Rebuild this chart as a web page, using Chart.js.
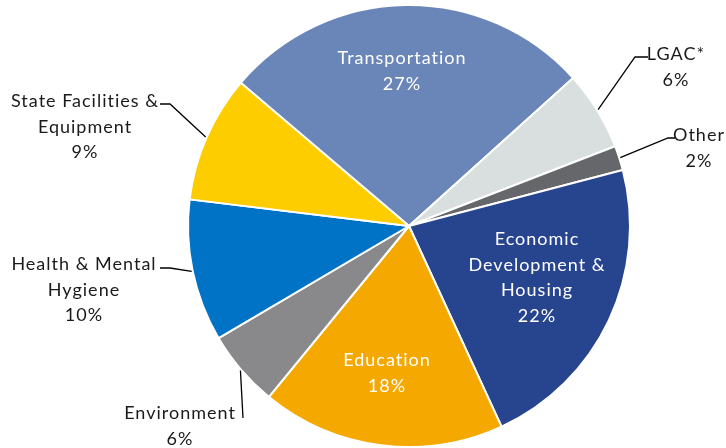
<!DOCTYPE html>
<html>
<head>
<meta charset="utf-8">
<script src="https://cdn.jsdelivr.net/npm/chart.js@4.4.0/dist/chart.umd.min.js"></script>
<style>
  html, body { margin: 0; padding: 0; background: #fff; }
  #wrap { width: 726px; height: 448px; }
</style>
</head>
<body>
<div id="wrap"><canvas id="chart" width="726" height="448"></canvas></div>
<script>
const categories = [
  ["Transportation"],
  ["LGAC*"],
  ["Other"],
  ["Economic", "Development &", "Housing"],
  ["Education"],
  ["Environment"],
  ["Health & Mental", "Hygiene"],
  ["State Facilities &", "Equipment"],
];
const shares = [27.1, 5.8, 1.8, 22.2, 17.8, 5.6, 10.4, 9.3];
const sliceColors = ["#6a86b8", "#d9dedf", "#66676a", "#27448f", "#f4a800", "#89898b", "#0073c7", "#fecd00"];

// label placement: inside labels by centre, outside labels with a leader line
const labelStyle = [
  { inside: true, x: 402, y: 58 },
  { elbow: [635, 57], end: [648, 57], x: 676, y: 54 },
  { elbow: [668, 138], end: [675, 138], x: 699, y: 135 },
  { inside: true, x: 537, y: 239 },
  { inside: true, x: 387, y: 360 },
  { elbow: [243, 418], end: [243, 418], x: 180, y: 413 },
  { elbow: [170, 268], end: [160, 268], x: 84, y: 264 },
  { elbow: [170, 104], end: [160, 104], x: 85, y: 101 },
];

const labelPlugin = {
  id: "sliceLabels",
  afterDatasetsDraw(chart) {
    const ctx = chart.ctx;
    const meta = chart.getDatasetMeta(0);
    const total = shares.reduce((a, b) => a + b, 0);
    ctx.save();
    ctx.font = "18px Lato";
    ctx.letterSpacing = "1px";
    ctx.textAlign = "center";
    ctx.textBaseline = "middle";
    meta.data.forEach((arc, i) => {
      const p = arc.getProps(["x", "y", "startAngle", "endAngle", "outerRadius"], true);
      const s = labelStyle[i];
      const lines = categories[i].concat([Math.round((shares[i] / total) * 100) + "%"]);
      if (!s.inside) {
        const mid = (p.startAngle + p.endAngle) / 2;
        const r = p.outerRadius + 1;
        ctx.strokeStyle = "#000";
        ctx.lineWidth = 1.3;
        ctx.beginPath();
        ctx.moveTo(p.x + Math.cos(mid) * r, p.y + Math.sin(mid) * r);
        ctx.lineTo(s.elbow[0], s.elbow[1]);
        ctx.lineTo(s.end[0], s.end[1]);
        ctx.stroke();
      }
      ctx.fillStyle = s.inside ? "#fff" : "#1a1a1a";
      lines.forEach((t, j) => ctx.fillText(t, s.x, s.y + j * 25.7));
    });
    ctx.restore();
  },
};

new Chart(document.getElementById("chart"), {
  type: "pie",
  data: {
    labels: categories.map((c) => c.join(" ")),
    datasets: [
      {
        data: shares,
        backgroundColor: sliceColors,
        borderColor: "#fff",
        borderWidth: 2,
      },
    ],
  },
  options: {
    responsive: false,
    animation: false,
    rotation: -49.6,
    layout: { padding: { top: 4, bottom: 0, left: 150, right: 58 } },
    plugins: {
      legend: { display: false },
      tooltip: { enabled: false },
    },
  },
  plugins: [labelPlugin],
});
</script>
</body>
</html>
